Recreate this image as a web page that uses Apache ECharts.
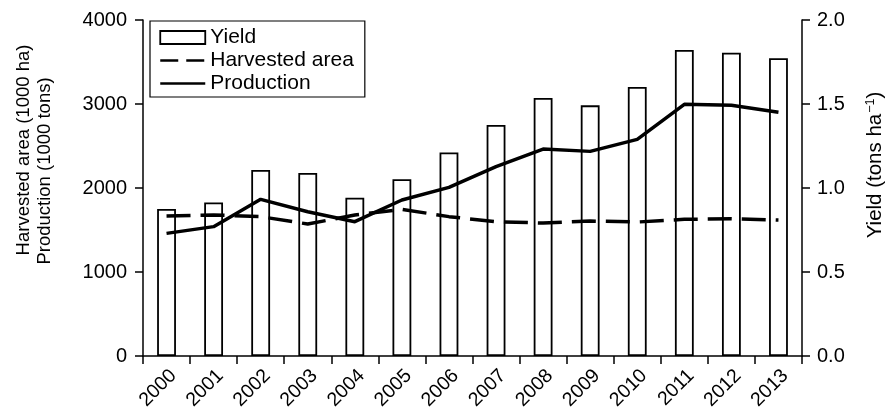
<!DOCTYPE html>
<html>
<head>
<meta charset="utf-8">
<script src="https://cdn.jsdelivr.net/npm/echarts@6/dist/echarts.min.js"></script>
<style>html,body{margin:0;padding:0;background:#fff}#c{width:891px;height:413px}</style>
</head>
<body>
<div id="c"></div>
<script>
var years = ['2000','2001','2002','2003','2004','2005','2006','2007','2008','2009','2010','2011','2012','2013'];
var yieldVals = [0.875,0.914,1.107,1.089,0.942,1.052,1.212,1.375,1.536,1.492,1.601,1.821,1.805,1.772];
var areaVals = [1667,1679,1659,1571,1679,1746,1659,1599,1583,1607,1595,1627,1635,1619];
var prodVals = [1460,1540,1865,1718,1599,1857,2008,2254,2464,2436,2579,2996,2984,2901];
var leftTicks = [0,1000,2000,3000,4000];
var rightTicks = ['0.0','0.5','1.0','1.5','2.0'];

var font = 'Liberation Sans, Arial, sans-serif';
var chart = echarts.init(document.getElementById('c'));
chart.setOption({
  animation: false,
  backgroundColor: '#fff',
  textStyle: {fontFamily: font, color: '#000'},
  grid: {left: 143, right: 89, top: 20, bottom: 57, containLabel: false, outerBoundsMode: 'none'},
  legend: {
    orient: 'vertical', left: 150, top: 21,
    backgroundColor: '#fff', borderColor: '#000', borderWidth: 1.2,
    padding: [6, 11, 3, 9],
    itemGap: 2, itemWidth: 45, itemHeight: 13,
    textStyle: {fontFamily: font, fontSize: 21, color: '#000', lineHeight: 21},
    data: [
      {name: 'Yield', icon: 'rect', itemStyle: {color: '#fff', borderColor: '#000', borderWidth: 1.8}},
      {name: 'Harvested area', itemStyle: {opacity: 0}, lineStyle: {width: 2.5, type: [18, 8], color: '#000'}},
      {name: 'Production', itemStyle: {opacity: 0}, lineStyle: {width: 2.5, type: 'solid', color: '#000'}}
    ]
  },
  xAxis: {
    type: 'category', data: years, boundaryGap: true,
    axisLine: {lineStyle: {color: '#000', width: 1.5}},
    axisTick: {show: true, length: 8, lineStyle: {color: '#000', width: 1.5}},
    axisLabel: {rotate: 45, fontSize: 19.5, color: '#000', margin: 10, fontFamily: font,
      align: 'right', verticalAlign: 'top', lineHeight: 19},
    splitLine: {show: false}
  },
  yAxis: [
    {
      type: 'value', min: 0, max: 4000, interval: 1000, position: 'left',
      name: '{a|Harvested area (1000 ha)}\n{b|Production (1000 tons)}',
      nameLocation: 'middle', nameGap: 88, nameRotate: 90,
      nameTextStyle: {fontSize: 18.5, color: '#000', fontFamily: font,
        rich: {a: {fontSize: 18.5, fontFamily: font, color: '#000', lineHeight: 21, padding: [0, 0, 0, 76]},
               b: {fontSize: 18.5, fontFamily: font, color: '#000', lineHeight: 21, padding: [0, 0, 0, 34]}}},
      axisLine: {show: true, lineStyle: {color: '#000', width: 1.5}},
      axisTick: {show: true, length: 8, lineStyle: {color: '#000', width: 1.5}},
      axisLabel: {fontSize: 20, color: '#000', margin: 16, fontFamily: font,
        formatter: function(v){ return leftTicks.indexOf(v) >= 0 ? String(v) : ''; }},
      splitLine: {show: false}
    },
    {
      type: 'value', min: 0, max: 2, interval: 0.5, position: 'right',
      name: '{a|Yield (tons ha}{s|−1}{c|)}',
      nameLocation: 'middle', nameGap: 62, nameRotate: 90,
      nameTextStyle: {fontSize: 20.5, color: '#000', fontFamily: font,
        rich: {a: {fontSize: 20.5, fontFamily: font, color: '#000', padding: [0, 0, 0, 46]},
               c: {fontSize: 20.5, fontFamily: font, color: '#000'},
               s: {fontSize: 12.5, fontFamily: font, color: '#000', verticalAlign: 'top', padding: [0, 0, 9, 1]}}},
      axisLine: {show: true, lineStyle: {color: '#000', width: 1.5}},
      axisTick: {show: true, length: 8, lineStyle: {color: '#000', width: 1.5}},
      axisLabel: {fontSize: 20, color: '#000', margin: 15, fontFamily: font,
        formatter: function(v){ return rightTicks[Math.round(v * 2)] || ''; }},
      splitLine: {show: false}
    }
  ],
  series: [
    {
      name: 'Yield', type: 'bar', yAxisIndex: 1, data: yieldVals, barWidth: '40%',
      itemStyle: {color: '#fff', borderColor: '#000', borderWidth: 1.8},
      z: 1
    },
    {
      name: 'Harvested area', type: 'line', yAxisIndex: 0, data: areaVals,
      symbol: 'none', smooth: false,
      lineStyle: {color: '#000', width: 3.5, type: [24, 10]},
      itemStyle: {color: '#000'},
      z: 3
    },
    {
      name: 'Production', type: 'line', yAxisIndex: 0, data: prodVals,
      symbol: 'none', smooth: false,
      lineStyle: {color: '#000', width: 3.5},
      itemStyle: {color: '#000'},
      z: 4
    }
  ]
});
</script>
</body>
</html>
